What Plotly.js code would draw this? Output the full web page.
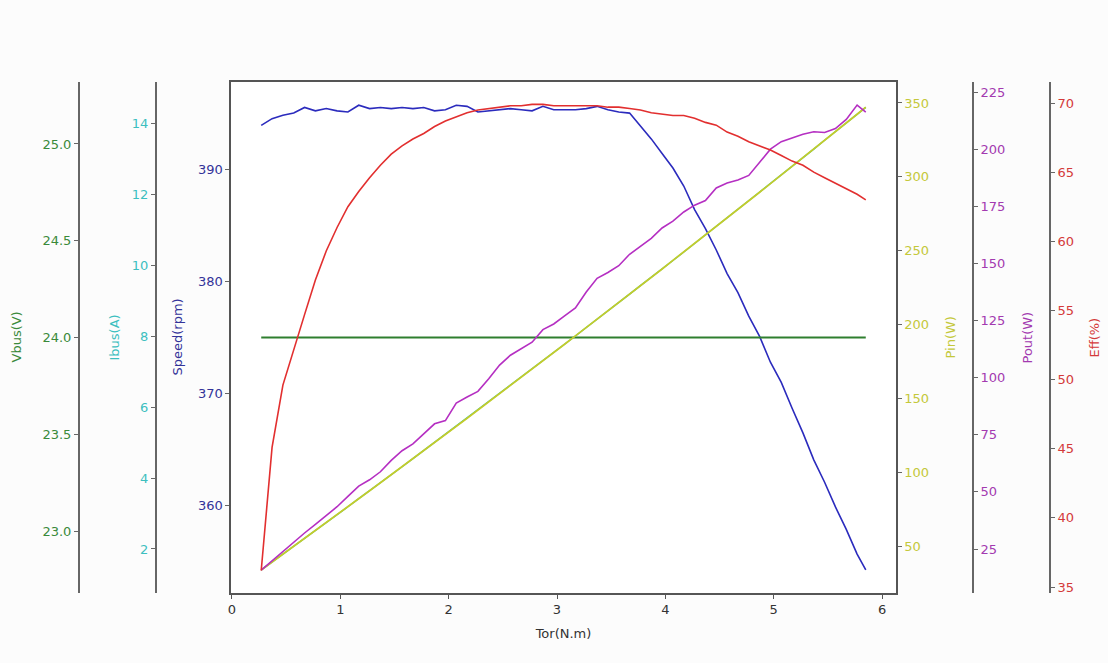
<!DOCTYPE html>
<html>
<head>
<meta charset="utf-8">
<script src="https://cdn.plot.ly/plotly-3.0.1.min.js"></script>
<style>html,body{margin:0;padding:0;background:#fcfcfc;}#chart{width:1108px;height:663px;}</style>
</head>
<body>
<div id="chart"></div>
<script>
const torque = [0.27,0.37,0.47,0.57,0.67,0.77,0.87,0.97,1.07,1.17,1.27,1.37,1.47,1.57,1.67,1.77,1.87,1.97,2.07,2.17,2.27,2.37,2.47,2.57,2.67,2.77,2.87,2.97,3.07,3.17,3.27,3.37,3.47,3.57,3.67,3.77,3.87,3.97,4.07,4.17,4.27,4.37,4.47,4.57,4.67,4.77,4.87,4.97,5.07,5.17,5.27,5.37,5.47,5.57,5.67,5.77,5.85];
const vbus = [24.0,24.0,24.0,24.0,24.0,24.0,24.0,24.0,24.0,24.0,24.0,24.0,24.0,24.0,24.0,24.0,24.0,24.0,24.0,24.0,24.0,24.0,24.0,24.0,24.0,24.0,24.0,24.0,24.0,24.0,24.0,24.0,24.0,24.0,24.0,24.0,24.0,24.0,24.0,24.0,24.0,24.0,24.0,24.0,24.0,24.0,24.0,24.0,24.0,24.0,24.0,24.0,24.0,24.0,24.0,24.0,24.0];
const ibus = [1.41,1.63,1.85,2.07,2.30,2.52,2.74,2.97,3.19,3.42,3.64,3.87,4.09,4.32,4.55,4.78,5.00,5.23,5.46,5.69,5.92,6.15,6.38,6.61,6.84,7.08,7.31,7.54,7.78,8.01,8.25,8.48,8.72,8.95,9.19,9.43,9.66,9.90,10.14,10.38,10.62,10.86,11.10,11.34,11.58,11.82,12.06,12.31,12.55,12.80,13.04,13.28,13.53,13.78,14.02,14.27,14.46];
const speed = [393.9,394.5,394.8,395.0,395.5,395.2,395.4,395.2,395.1,395.7,395.4,395.5,395.4,395.5,395.4,395.5,395.2,395.3,395.7,395.6,395.1,395.2,395.3,395.4,395.3,395.2,395.6,395.3,395.3,395.3,395.4,395.6,395.3,395.1,395.0,393.9,392.7,391.4,390.1,388.5,386.4,384.7,382.8,380.7,379.0,376.9,375.1,372.8,371.0,368.7,366.5,364.1,362.1,359.9,357.9,355.7,354.3];
const pin = [33.8,39.1,44.4,49.8,55.1,60.4,65.8,71.2,76.6,82.0,87.4,92.8,98.2,103.7,109.1,114.6,120.1,125.5,131.0,136.5,142.1,147.6,153.1,158.7,164.3,169.8,175.4,181.0,186.6,192.3,197.9,203.5,209.2,214.9,220.5,226.2,231.9,237.6,243.4,249.1,254.8,260.6,266.4,272.2,277.9,283.7,289.6,295.4,301.2,307.1,312.9,318.8,324.7,330.6,336.5,342.4,347.1];
const pout = [15.8,19.9,24.0,28.1,32.0,35.8,39.6,43.5,48.0,52.5,55.3,58.8,63.8,68.0,71.0,75.5,79.8,81.2,88.9,91.5,94.0,99.5,105.5,109.8,112.5,115.5,121.0,123.5,127.0,130.5,137.5,143.5,146.0,149.0,154.0,157.5,161.0,165.5,168.5,172.5,175.5,177.5,183.0,185.2,186.5,188.5,194.5,200.0,203.3,204.8,206.5,207.6,207.3,209.0,213.0,219.3,216.2];
const eff = [36.2,45.1,49.6,52.2,54.7,57.2,59.3,61.0,62.5,63.6,64.6,65.5,66.3,66.9,67.4,67.8,68.3,68.7,69.0,69.3,69.5,69.6,69.7,69.8,69.8,69.9,69.9,69.8,69.8,69.8,69.8,69.8,69.7,69.7,69.6,69.5,69.3,69.2,69.1,69.1,68.9,68.6,68.4,67.9,67.6,67.2,66.9,66.6,66.2,65.8,65.5,65.0,64.6,64.2,63.8,63.4,63.0];

const xTicks = [0,1,2,3,4,5,6];
const vbusTicks = [23.0,23.5,24.0,24.5,25.0];
const ibusTicks = [2,4,6,8,10,12,14];
const speedTicks = [360,370,380,390];
const pinTicks = [50,100,150,200,250,300,350];
const poutTicks = [25,50,75,100,125,150,175,200,225];
const effTicks = [35,40,45,50,55,60,65,70];

const C = {
  vbus: '#2f7f2f', ibus: '#22bcbc', speed: '#2b2bbd', pin: '#c4cc2a', pout: '#b52fc2', eff: '#e22f2f',
  vbusT: '#3a8a3a', ibusT: '#3cbfbf', speedT: '#333399', pinT: '#c4c83a', poutT: '#a33ab0', effT: '#d43a3a'
};
const font = {family: 'DejaVu Sans', size: 13, color: '#333'};
const W = 1108;

function yAx(extra, col, ticks, fmt) {
  return Object.assign({
    tickvals: ticks, tickformat: fmt, showgrid: false, zeroline: false,
    showline: true, linecolor: '#666', linewidth: 1.8,
    ticks: 'outside', ticklen: 4, tickwidth: 1, tickcolor: '#666',
    tickfont: {family: 'DejaVu Sans', size: 13, color: col}, fixedrange: true
  }, extra);
}

const traces = [
  {x: torque, y: speed, yaxis: 'y', mode: 'lines', line: {color: C.speed, width: 1.6}, name: 'Speed'},
  {x: torque, y: vbus, yaxis: 'y2', mode: 'lines', line: {color: C.vbus, width: 1.8}, name: 'Vbus'},
  {x: torque, y: ibus, yaxis: 'y3', mode: 'lines', line: {color: C.ibus, width: 1.4}, name: 'Ibus'},
  {x: torque, y: pin, yaxis: 'y4', mode: 'lines', line: {color: C.pin, width: 1.8}, name: 'Pin'},
  {x: torque, y: pout, yaxis: 'y5', mode: 'lines', line: {color: C.pout, width: 1.6}, name: 'Pout'},
  {x: torque, y: eff, yaxis: 'y6', mode: 'lines', line: {color: C.eff, width: 1.6}, name: 'Eff'}
];

function vt(text, xpx, col) {
  return {text: text, x: xpx / W, y: 0.5, xref: 'paper', yref: 'paper', xanchor: 'center', yanchor: 'middle',
    textangle: -90, showarrow: false, font: {family: 'DejaVu Sans', size: 13, color: col}};
}

const layout = {
  width: 1108, height: 663,
  margin: {l: 0, r: 0, t: 82, b: 70},
  paper_bgcolor: '#fcfcfc', plot_bgcolor: '#ffffff',
  showlegend: false, font: font,
  xaxis: {
    domain: [231 / W, 896 / W], range: [-0.009, 6.129], tickvals: xTicks,
    showgrid: false, zeroline: false, showline: true, mirror: true, linecolor: '#555', linewidth: 1.6,
    ticks: 'outside', ticklen: 4, tickcolor: '#555',
    tickfont: {family: 'DejaVu Sans', size: 13, color: '#333'},
    title: {text: 'Tor(N.m)', font: {family: 'DejaVu Sans', size: 13, color: '#333'}, standoff: 12},
    automargin: false,
    fixedrange: true
  },
  yaxis: yAx({range: [352.23, 397.77], side: 'left', anchor: 'x', mirror: true, linecolor: '#555', linewidth: 1.6}, C.speedT, speedTicks, 'd'),
  yaxis2: yAx({range: [22.68, 25.32], overlaying: 'y', anchor: 'free', position: 78 / W, side: 'left'}, C.vbusT, vbusTicks, '.1f'),
  yaxis3: yAx({range: [0.758, 15.175], overlaying: 'y', anchor: 'free', position: 155 / W, side: 'left'}, C.ibusT, ibusTicks, 'd'),
  yaxis4: yAx({range: [18.2, 364.2], overlaying: 'y', anchor: 'x', side: 'right', linecolor: '#555', linewidth: 1.6}, C.pinT, pinTicks, 'd'),
  yaxis5: yAx({range: [5.74, 229.4], overlaying: 'y', anchor: 'free', position: 972 / W, side: 'right'}, C.poutT, poutTicks, 'd'),
  yaxis6: yAx({range: [34.57, 71.52], overlaying: 'y', anchor: 'free', position: 1049 / W, side: 'right'}, C.effT, effTicks, 'd'),
  annotations: [
    vt('Vbus(V)', 16, C.vbusT),
    vt('Ibus(A)', 114, C.ibusT),
    vt('Speed(rpm)', 177, C.speedT),
    vt('Pin(W)', 950, C.pinT),
    vt('Pout(W)', 1027, C.poutT),
    vt('Eff(%)', 1094, C.effT)
  ]
};

Plotly.newPlot('chart', traces, layout, {displayModeBar: false, staticPlot: true});
</script>
</body>
</html>
